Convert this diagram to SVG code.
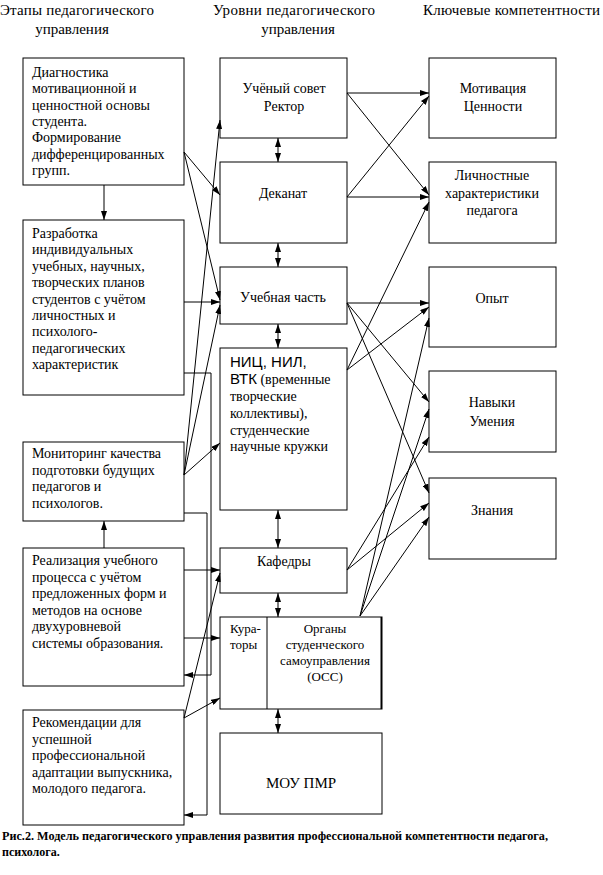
<svg xmlns="http://www.w3.org/2000/svg" width="603" height="875" viewBox="0 0 603 875">
<style>
.b{fill:#fff;stroke:#000;stroke-width:1}
.t{font-family:"Liberation Serif","Times New Roman",serif;font-size:14px;fill:#000}
.h{font-family:"Liberation Serif","Times New Roman",serif;font-size:15px;fill:#000}
.s{font-family:"Liberation Sans",Arial,sans-serif;font-size:15px;fill:#000}
.c{text-anchor:middle}
.cap{font-family:"Liberation Serif","Times New Roman",serif;font-size:12px;font-weight:bold;fill:#000}
.l{fill:none;stroke:#000;stroke-width:1;marker-end:url(#a)}
.d{fill:none;stroke:#000;stroke-width:1;marker-end:url(#a);marker-start:url(#a)}
.p{fill:none;stroke:#000;stroke-width:1}
</style>
<defs>
<marker id="a" markerUnits="userSpaceOnUse" markerWidth="9" markerHeight="6" refX="9" refY="3" orient="auto-start-reverse">
<path d="M0,0 L9,3 L0,6 z" fill="#000"/>
</marker>
</defs>
<rect width="603" height="875" fill="#fff"/>
<g id="headers">
<text class="h" x="0" y="15" textLength="154" lengthAdjust="spacing">Этапы педагогического</text>
<text class="h c" x="72" y="34">управления</text>
<text class="h" x="213" y="15" textLength="162" lengthAdjust="spacing">Уровни педагогического</text>
<text class="h c" x="298" y="34">управления</text>
<text class="h" x="423" y="15" textLength="177" lengthAdjust="spacing">Ключевые компетентности</text>
</g>
<g id="stage1"><rect class="b" x="23" y="58" width="161" height="127"/>
<text class="t" x="32" y="77">Диагностика</text><text class="t" x="32" y="93.3">мотивационной и</text><text class="t" x="32" y="109.6">ценностной основы</text><text class="t" x="32" y="125.9">студента.</text><text class="t" x="32" y="142.2">Формирование</text><text class="t" x="32" y="158.5">дифференцированных</text><text class="t" x="32" y="174.8">групп.</text></g>
<g id="stage2"><rect class="b" x="23" y="220" width="161" height="175"/>
<text class="t" x="32" y="238">Разработка</text><text class="t" x="32" y="254.4">индивидуальных</text><text class="t" x="32" y="270.8">учебных, научных,</text><text class="t" x="32" y="287.2">творческих планов</text><text class="t" x="32" y="303.6">студентов с учётом</text><text class="t" x="32" y="320">личностных и</text><text class="t" x="32" y="336.4">психолого-</text><text class="t" x="32" y="352.8">педагогических</text><text class="t" x="32" y="369.2">характеристик</text></g>
<g id="stage3"><rect class="b" x="23" y="442" width="161" height="79"/>
<text class="t" x="32" y="458">Мониторинг качества</text><text class="t" x="32" y="474.5">подготовки будущих</text><text class="t" x="32" y="491">педагогов и</text><text class="t" x="32" y="507.5">психологов.</text></g>
<g id="stage4"><rect class="b" x="23" y="548" width="161" height="138"/>
<text class="t" x="32" y="565">Реализация учебного</text><text class="t" x="32" y="581.6">процесса с учётом</text><text class="t" x="32" y="598.2">предложенных форм и</text><text class="t" x="32" y="614.8">методов на основе</text><text class="t" x="32" y="631.4">двухуровневой</text><text class="t" x="32" y="648">системы образования.</text></g>
<g id="stage5"><rect class="b" x="23" y="710" width="161" height="115"/>
<text class="t" x="32" y="727">Рекомендации для</text><text class="t" x="32" y="743.5">успешной</text><text class="t" x="32" y="760">профессиональной</text><text class="t" x="32" y="776.5">адаптации выпускника,</text><text class="t" x="32" y="793">молодого педагога.</text></g>
<g id="council"><rect class="b" x="220" y="58" width="127" height="80"/>
<text class="t c" x="284" y="93">Учёный совет</text><text class="t c" x="284" y="111">Ректор</text></g>
<g id="deanery"><rect class="b" x="220" y="162" width="127" height="81"/>
<text class="t c" x="283" y="198">Деканат</text></g>
<g id="study"><rect class="b" x="220" y="267" width="127" height="57"/>
<text class="t c" x="283" y="302">Учебная часть</text></g>
<g id="nic"><rect class="b" x="220" y="348" width="127" height="162"/>
<text class="s" x="230" y="367">НИЦ, НИЛ,</text>
<text x="230" y="384"><tspan class="s">ВТК</tspan><tspan class="t"> (временные</tspan></text>
<text class="t" x="230" y="401">творческие</text><text class="t" x="230" y="418">коллективы),</text><text class="t" x="230" y="434.5">студенческие</text><text class="t" x="230" y="451">научные кружки</text></g>
<g id="chairs"><rect class="b" x="220" y="548" width="127" height="45"/>
<text class="t c" x="284" y="566">Кафедры</text></g>
<g id="curators"><rect class="b" x="220" y="617" width="162" height="92"/>
<rect x="380.5" y="617" width="1.5" height="92" fill="#000"/>
<line class="p" x1="267" y1="617" x2="267" y2="709"/>
<text class="t" x="230" y="633" style="font-size:13px">Кура-</text><text class="t" x="230" y="649" style="font-size:13px">торы</text>
<text class="t c" x="325" y="633" style="font-size:13px">Органы</text><text class="t c" x="325" y="649" style="font-size:13px">студенческого</text><text class="t c" x="325" y="665" style="font-size:13px">самоуправления</text><text class="t c" x="325" y="681" style="font-size:13px">(ОСС)</text></g>
<g id="mou"><rect class="b" x="220" y="733" width="162" height="81"/>
<text class="t c" x="301" y="788" style="font-size:15px">МОУ ПМР</text></g>
<g id="motivation"><rect class="b" x="429" y="58" width="127" height="80"/>
<text class="t c" x="493" y="93">Мотивация</text><text class="t c" x="493" y="111">Ценности</text></g>
<g id="personal"><rect class="b" x="429" y="162" width="127" height="81"/>
<text class="t c" x="492" y="180">Личностные</text><text class="t c" x="492" y="198">характеристики</text><text class="t c" x="492" y="215">педагога</text></g>
<g id="experience"><rect class="b" x="429" y="267" width="127" height="80"/>
<text class="t c" x="492" y="303">Опыт</text></g>
<g id="skills"><rect class="b" x="429" y="371" width="127" height="81"/>
<text class="t c" x="492" y="407">Навыки</text><text class="t c" x="492" y="426">Умения</text></g>
<g id="knowledge"><rect class="b" x="429" y="478" width="127" height="81"/>
<text class="t c" x="492" y="515">Знания</text></g>
<g id="connectors">
<line class="l" x1="104" y1="185" x2="104" y2="220"/>
<line class="l" x1="104" y1="548" x2="104" y2="521"/>
<line class="l" x1="184" y1="152" x2="220" y2="195"/>
<line class="l" x1="184" y1="152" x2="220" y2="300"/>
<line class="l" x1="184" y1="302" x2="220" y2="302"/>
<line class="l" x1="184" y1="475" x2="220" y2="120"/>
<line class="l" x1="184" y1="475" x2="220" y2="305"/>
<line class="l" x1="184" y1="475" x2="220" y2="443"/>
<polyline class="l" points="184,373 211,373 211,675 184,675"/>
<polyline class="l" points="184,513 207,513 207,815 184,815"/>
<line class="l" x1="184" y1="570" x2="220" y2="570"/>
<line class="l" x1="184" y1="638" x2="220" y2="638"/>
<line class="l" x1="184" y1="718" x2="220" y2="573"/>
<line class="l" x1="184" y1="718" x2="220" y2="698"/>
<line class="d" x1="278" y1="138" x2="278" y2="162"/>
<line class="d" x1="278" y1="243" x2="278" y2="267"/>
<line class="d" x1="278" y1="324" x2="278" y2="348"/>
<line class="d" x1="278" y1="510" x2="278" y2="548"/>
<line class="d" x1="278" y1="593" x2="278" y2="617"/>
<line class="d" x1="278" y1="709" x2="278" y2="733"/>
<line class="l" x1="347" y1="93" x2="429" y2="93"/>
<line class="l" x1="347" y1="93" x2="429" y2="195"/>
<line class="l" x1="347" y1="197" x2="429" y2="96"/>
<line class="l" x1="347" y1="197" x2="429" y2="197"/>
<line class="l" x1="347" y1="370" x2="429" y2="202"/>
<line class="l" x1="347" y1="303" x2="429" y2="303"/>
<line class="l" x1="347" y1="303" x2="429" y2="402"/>
<line class="l" x1="347" y1="303" x2="429" y2="493"/>
<line class="l" x1="347" y1="370" x2="429" y2="307"/>
<line class="l" x1="347" y1="570" x2="429" y2="437"/>
<line class="l" x1="347" y1="570" x2="429" y2="503"/>
<line class="l" x1="360" y1="616" x2="429" y2="318"/>
<line class="l" x1="360" y1="616" x2="429" y2="409"/>
<line class="l" x1="360" y1="616" x2="429" y2="517"/>
</g>
<g id="caption">
<text class="cap" x="2" y="840" textLength="546" lengthAdjust="spacingAndGlyphs">Рис.2. Модель педагогического управления развития профессиональной компетентности педагога,</text>
<text class="cap" x="2" y="856">психолога.</text>
</g>
</svg>
